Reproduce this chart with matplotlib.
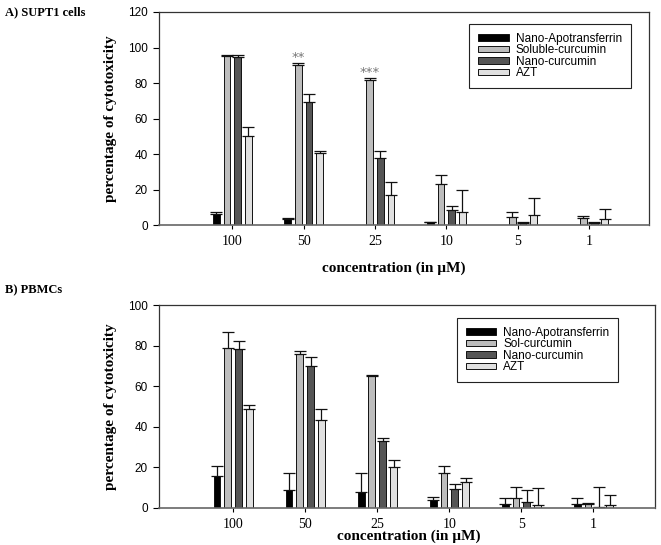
import numpy as np
import matplotlib
matplotlib.use('Agg')
from matplotlib import pyplot as plt

concentrations = ['100', '50', '25', '10', '5', '1']

# A) SUPT1 cells
supt1_apo = [6, 3.5, 0, 1.5, 0, 0]
supt1_apo_err = [1.5, 0.7, 0, 0.3, 0, 0]
supt1_sol = [95, 90, 81.5, 23, 4.5, 4]
supt1_sol_err = [0.5, 1.5, 1.5, 5, 3, 1]
supt1_nano = [94.5, 69.5, 37.5, 8.5, 1, 1]
supt1_nano_err = [1, 4.5, 4, 2.5, 0.5, 1]
supt1_azt = [50, 40.5, 17, 7.5, 5.5, 3.5]
supt1_azt_err = [5, 1, 7.5, 12.5, 10, 5.5]

# B) PBMCs
pbmc_apo = [16, 9, 8, 4, 2, 2]
pbmc_apo_err = [4.5, 8, 9, 1.5, 3, 3]
pbmc_sol = [79, 76, 65, 17, 5, 2]
pbmc_sol_err = [8, 1.5, 0.5, 3.5, 5.5, 0.5]
pbmc_nano = [78.5, 70, 33, 9.5, 3, 0.3]
pbmc_nano_err = [4, 4.5, 1.5, 2.5, 6, 10]
pbmc_azt = [49, 43.5, 20, 13, 1.5, 1.5]
pbmc_azt_err = [2, 5.5, 3.5, 2, 8.5, 5]

colors = ['#000000', '#bdbdbd', '#555555', '#e0e0e0']
serif = 'Liberation Serif'
sans = 'Liberation Sans'


def draw_panel(ax, series, errs, labels, ymax, legend_anchor, fig):
    x = np.arange(len(concentrations))
    pitch = 0.15
    handles = []
    for i, (vals, err, col, lab) in enumerate(zip(series, errs, colors, labels)):
        pos = x + (i - 1.5) * pitch
        vals = np.array(vals)
        err = np.array(err)
        b = ax.bar(pos, vals, width=0.095, color=col, edgecolor='#111111',
                   linewidth=0.7, label=lab)
        m = err > 0
        ax.errorbar(pos[m], vals[m], yerr=[np.zeros(m.sum()), err[m]], fmt='none',
                    ecolor='#111111', elinewidth=0.9, capsize=4, capthick=0.9)
        handles.append(b)
    ax.set_xlim(-1.03, 5.85)
    ax.set_ylim(0, ymax)
    ax.set_xticks(x)
    ax.set_xticklabels(concentrations, fontfamily=serif, fontsize=10)
    ax.set_yticks(np.arange(0, ymax + 1, 20))
    ax.set_yticklabels([str(v) for v in range(0, ymax + 1, 20)], fontfamily=sans, fontsize=8.5)
    ax.tick_params(axis='y', direction='out', length=4, width=0.8, pad=4)
    ax.tick_params(axis='x', direction='out', length=3, width=0.8, pad=4)
    for s in ax.spines.values():
        s.set_color('#333333')
        s.set_linewidth(0.9)
    ax.spines['bottom'].set_color('#666666')
    ax.spines['bottom'].set_linewidth(1.2)
    ax.set_ylabel('percentage of cytotoxicity', fontfamily=serif, fontweight='bold',
                  fontsize=11, labelpad=8)
    leg = fig.legend(handles, labels, loc='upper left', bbox_to_anchor=legend_anchor,
                     borderaxespad=0, fancybox=False, edgecolor='#222222',
                     prop={'family': sans, 'size': 8.5}, handlelength=2.6,
                     handleheight=0.45, labelspacing=-0.05, borderpad=0.75,
                     handletextpad=0.6, framealpha=1)
    leg.get_frame().set_linewidth(0.8)
    return x


fig = plt.figure(figsize=(6.61, 5.45), dpi=100)

ax1 = fig.add_axes([0.2405, 0.587, 0.742, 0.391])
x = draw_panel(ax1, [supt1_apo, supt1_sol, supt1_nano, supt1_azt],
               [supt1_apo_err, supt1_sol_err, supt1_nano_err, supt1_azt_err],
               ['Nano-Apotransferrin', 'Soluble-curcumin', 'Nano-curcumin', 'AZT'],
               120, (0.7095, 0.956), fig)
fig.text(0.596, 0.508, 'concentration (in \u00b5M)', fontfamily=serif, fontweight='bold',
         fontsize=11, ha='center', va='center')
# significance marks over soluble curcumin
ax1.text(x[1] - 0.5 * 0.15, supt1_sol[1] + supt1_sol_err[1] - 1.0, '**', ha='center',
         va='bottom', color='#777777', fontsize=9.5)
ax1.text(x[2] - 0.5 * 0.15, supt1_sol[2] + supt1_sol_err[2] - 1.0, '***', ha='center',
         va='bottom', color='#777777', fontsize=9.5)

ax2 = fig.add_axes([0.2405, 0.068, 0.75, 0.372])
draw_panel(ax2, [pbmc_apo, pbmc_sol, pbmc_nano, pbmc_azt],
           [pbmc_apo_err, pbmc_sol_err, pbmc_nano_err, pbmc_azt_err],
           ['Nano-Apotransferrin', 'Sol-curcumin', 'Nano-curcumin', 'AZT'],
           100, (0.691, 0.4165), fig)
fig.text(0.618, 0.004, 'concentration (in \u00b5M)', fontfamily=serif, fontweight='bold',
         fontsize=11, ha='center', va='bottom')

fig.text(0.008, 0.978, 'A) SUPT1 cells', fontfamily=serif, fontweight='bold',
         fontsize=9, va='center', ha='left')
fig.text(0.008, 0.468, 'B) PBMCs', fontfamily=serif, fontweight='bold',
         fontsize=9, va='center', ha='left')

plt.savefig('out.png', dpi=100)
